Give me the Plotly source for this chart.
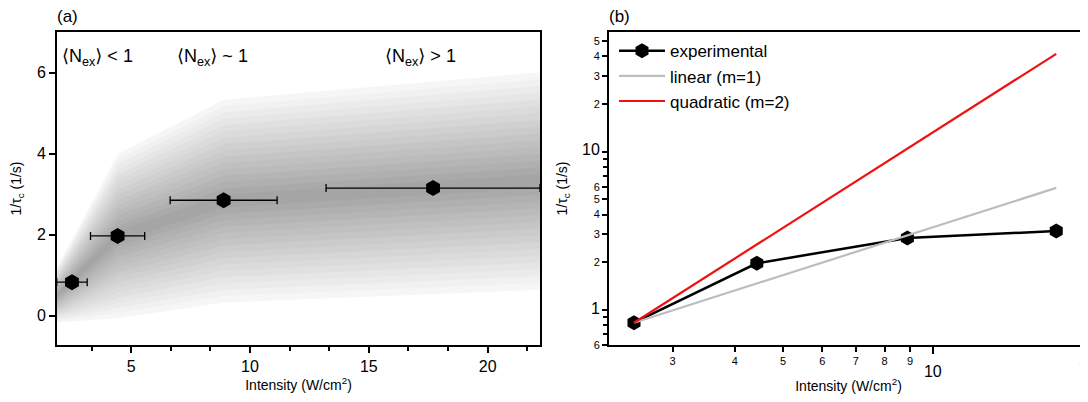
import numpy as np
import plotly.graph_objects as go

# ---------------- data ----------------
x_exp = [2.51, 4.43, 8.89, 17.7]        # intensity (W/cm^2)
y_exp = [0.83, 1.97, 2.85, 3.15]        # 1/tau_c (1/s)
x_err = [0.64, 1.14, 2.25, 4.5]

x_fit = [2.51, 17.7]
y_linear = [0.83, 5.9]
y_quadratic = [0.83, 41.5]

band_x = [1.8, 4.45, 8.9, 22.5]
band_upper = [1.1, 4.0, 5.33, 6.02]
band_lower = [-0.17, -0.06, 0.33, 0.65]

region_labels = ["⟨N<sub>ex</sub>⟩ < 1", "⟨N<sub>ex</sub>⟩ ~ 1", "⟨N<sub>ex</sub>⟩ > 1"]
region_x = [2.0, 6.85, 15.6]

xb_minor_vals = [3, 4, 5, 6, 7, 8, 9, 20]
xb_minor_text = ["3", "4", "5", "6", "7", "8", "9", "2"]
yb_vals = [0.6, 1, 2, 3, 4, 5, 6, 10, 20, 30, 40, 50]
yb_text = ["6", "1", "2", "3", "4", "5", "6", "10", "2", "3", "4", "5"]
yb_minor = [0.7, 0.8, 0.9, 7, 8, 9]

FONT = "Arial, Liberation Sans, DejaVu Sans, sans-serif"
# the page body has an 8px margin, so the figure is drawn 8px in from the top-left
W, H = 1080, 386
OFF = 8

fig = go.Figure()

# ---------------- panel (a): shaded band ----------------
bx = np.array(band_x)
bu = np.array(band_upper)
bl = np.array(band_lower)
mid = (bu + bl) / 2
half = (bu - bl) / 2
N = 16
for k in range(N):
    frac = 1 - k / N
    up = mid + frac * half
    lo = mid - frac * half
    g = int(round(246 - (246 - 165) * k / (N - 1)))
    fig.add_trace(go.Scatter(
        x=list(bx) + list(bx[::-1]), y=list(up) + list(lo[::-1]),
        fill="toself", fillcolor=f"rgb({g},{g},{g})", line=dict(width=0),
        mode="lines", hoverinfo="skip", showlegend=False, xaxis="x", yaxis="y"))

fig.add_trace(go.Scatter(
    x=x_exp, y=y_exp, mode="markers",
    marker=dict(symbol="hexagon", size=16, color="black"),
    error_x=dict(type="data", array=x_err, color="black", thickness=1.3, width=4),
    showlegend=False, xaxis="x", yaxis="y"))

# ---------------- panel (b) ----------------
fig.add_trace(go.Scatter(
    x=x_exp, y=y_exp, mode="lines+markers", name="experimental",
    line=dict(color="black", width=2.5),
    marker=dict(symbol="hexagon", size=15, color="black"),
    xaxis="x2", yaxis="y2"))
fig.add_trace(go.Scatter(
    x=x_fit, y=y_linear, mode="lines", name="linear (m=1)",
    line=dict(color="#bdbdbd", width=2.2), xaxis="x2", yaxis="y2"))
fig.add_trace(go.Scatter(
    x=x_fit, y=y_quadratic, mode="lines", name="quadratic (m=2)",
    line=dict(color="#ee1111", width=2.2), xaxis="x2", yaxis="y2"))
# invisible carrier for the overlaid major-tick axis
fig.add_trace(go.Scatter(x=[10], y=[1], mode="markers", marker=dict(opacity=0),
                         hoverinfo="skip", showlegend=False, xaxis="x3", yaxis="y2"))

top, bottom = 32 - OFF, 345 - OFF
ph = bottom - top
dom_a = [(57 - OFF) / W, (540 - OFF) / W]
dom_b = [(609 - OFF) / W, 1.0]
xb_range = [np.log10(2.236), np.log10(20.5)]

ax_common = dict(showline=True, linewidth=2, linecolor="black", ticks="outside",
                 tickwidth=2, tickcolor="black", showgrid=False, zeroline=False,
                 automargin=False)

fig.update_layout(
    width=W, height=H, margin=dict(l=0, r=0, t=top, b=H - bottom, autoexpand=False),
    plot_bgcolor="white", paper_bgcolor="white",
    font=dict(family=FONT, color="black", size=14),
    xaxis=dict(domain=dom_a, anchor="y", range=[1.88, 22.2], tickvals=[5, 10, 15, 20],
               ticklen=6, mirror=True, tickfont=dict(size=16),
               minor=dict(dtick=5 / 3, tick0=0, ticklen=4, tickwidth=1.5, ticks="outside", tickcolor="black"),
               title=dict(text="Intensity (W/cm<sup>2</sup>)", font=dict(size=14), standoff=4),
               **ax_common),
    yaxis=dict(domain=[0, 1], anchor="x", range=[-0.72, 7.0], tickvals=[0, 2, 4, 6],
               ticklen=6, mirror=True, tickfont=dict(size=16),
               title=dict(text="1/τ<sub>c</sub> (1/s)", font=dict(size=14), standoff=16),
               **ax_common),
    xaxis2=dict(domain=dom_b, anchor="y2", type="log", range=xb_range,
                tickvals=xb_minor_vals, ticktext=xb_minor_text, tickfont=dict(size=11),
                ticklen=5, mirror=True, ticklabeloverflow="allow",
                title=dict(text="Intensity (W/cm<sup>2</sup>)", font=dict(size=14), standoff=16),
                **ax_common),
    xaxis3=dict(domain=dom_b, anchor="y2", overlaying="x2", side="bottom", type="log",
                range=xb_range, tickvals=[10], ticktext=["10"], tickfont=dict(size=16),
                ticks="outside", ticklen=8, tickwidth=2, tickcolor="black", automargin=False,
                showline=False, showgrid=False, zeroline=False, ticklabelstandoff=4),
    yaxis2=dict(domain=[0, 1], anchor="x2", type="log",
                range=[np.log10(0.6), np.log10(57)],
                tickvals=yb_vals,
                ticktext=[('<span style="font-size:16px">%s</span>' % t) if v in (1, 10) else t
                          for v, t in zip(yb_vals, yb_text)],
                tickfont=dict(size=11), ticklen=5, mirror=False,
                minor=dict(tickvals=yb_minor, ticklen=4, tickwidth=1.5, ticks="outside", tickcolor="black"),
                title=dict(text="1/τ<sub>c</sub> (1/s)", font=dict(size=14), standoff=11),
                **ax_common),
    legend=dict(x=(614 - OFF) / W, y=0.996, xanchor="left", yanchor="top", bgcolor="rgba(0,0,0,0)",
                font=dict(size=17), itemwidth=46, tracegroupgap=0),
)

for t, xv in zip(region_labels, region_x):
    fig.add_annotation(x=xv, y=6.38, xref="x", yref="y", text=t, showarrow=False,
                       xanchor="left", yanchor="middle", font=dict(size=18))

fig.add_annotation(x=(55 - OFF) / W, y=1 + (top - 9) / ph, xref="paper", yref="paper", text="(a)",
                   showarrow=False, xanchor="left", yanchor="middle", font=dict(size=17))
fig.add_annotation(x=(607 - OFF) / W, y=1 + (top - 9) / ph, xref="paper", yref="paper", text="(b)",
                   showarrow=False, xanchor="left", yanchor="middle", font=dict(size=17))

fig.write_html("out.html")
